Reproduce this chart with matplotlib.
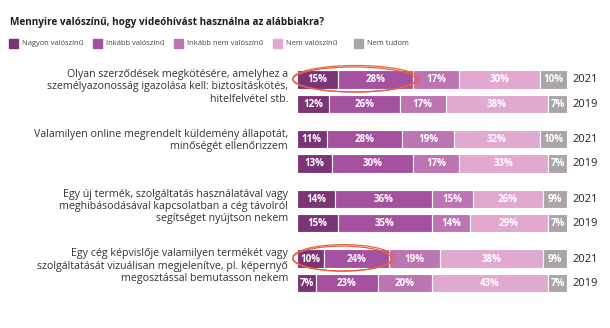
"""
Stacked bars: how likely people would use a video call for various tasks, 2021 vs 2019.
"""

import matplotlib
matplotlib.use("Agg")
import matplotlib.pyplot as plt
from matplotlib.patches import Ellipse

plt.rcParams["font.family"] = ["Open Sans", "DejaVu Sans"]

categories = ["Nagyon valószínű", "Inkább valószínű", "Inkább nem valószínű",
              "Nem valószínű", "Nem tudom"]
colours = ["#7b3476", "#a4519f", "#bd74b3", "#e2a9d0", "#aba5aa"]

questions = [
    "Olyan szerződések megkötésére, amelyhez a\nszemélyazonosság igazolása kell: biztosításkötés,\nhitelfelvétel stb.",
    "Valamilyen online megrendelt küldemény állapotát,\nminőségét ellenőrizzem",
    "Egy új termék, szolgáltatás használatával vagy\nmeghibásodásával kapcsolatban a cég távolról\nsegítséget nyújtson nekem",
    "Egy cég képvislője valamilyen termékét vagy\nszolgáltatását vizuálisan megjelenítve, pl. képernyő\nmegosztással bemutasson nekem",
]
years = ["2021", "2019"]

values_2021 = [
    [15, 28, 17, 30, 10],
    [11, 28, 19, 32, 10],
    [14, 36, 15, 26, 9],
    [10, 24, 19, 38, 9],
]
values_2019 = [
    [12, 26, 17, 38, 7],
    [13, 30, 17, 33, 7],
    [15, 35, 14, 29, 7],
    [7, 23, 20, 43, 7],
]

# which 2021 rows get the hand-drawn highlight around the first two segments
highlighted = [0, 3]

W, H = 610, 328
fig = plt.figure(figsize=(W / 100, H / 100), dpi=100)
fig.patch.set_facecolor("white")

# bar area: x in percent, y in pixel rows from the top
ax = fig.add_axes([297 / W, 0, 270 / W, 1])
ax.set_xlim(0, 100)
ax.set_ylim(H, 0)
ax.axis("off")

group_top = 79.5
group_step = 59.7
row_step = 24.3
bar_h = 18.5

for g, q in enumerate(questions):
    rows = [values_2021[g], values_2019[g]]
    for k, vals in enumerate(rows):
        yc = group_top + g * group_step + k * row_step
        left = 0
        for v, c in zip(vals, colours):
            ax.barh(yc, v, left=left, height=bar_h, color=c,
                    edgecolor="white", linewidth=0.8)
            ax.text(left + v / 2, yc + 0.5, f"{v}%", ha="center", va="center",
                    color="white", fontsize=7, fontweight="bold")
            left += v
        ax.text(102, yc + 0.5, years[k], ha="left", va="center",
                fontsize=8, color="#222222", clip_on=False)
        if k == 0 and g in highlighted:
            w = vals[0] + vals[1]
            for dx, dy, dw, dh in [(0, 0, 0, 0), (0.5, -0.8, 1.0, 1.4)]:
                ax.add_patch(Ellipse((w / 2 - 0.3 + dx, yc + dy), w + 2.5 + dw, 25 + dh,
                                     fill=False, edgecolor="#e8623e",
                                     linewidth=0.9, clip_on=False))
    ytop = group_top + g * group_step - bar_h / 2 - 1
    ax.text(-3.3, ytop, q, ha="right", va="top", fontsize=7.7,
            color="#333333", linespacing=1.15, clip_on=False)

fig.text(10 / W, 1 - 22 / H, "Mennyire valószínű, hogy videóhívást használna az alábbiakra?",
         ha="left", va="center", fontsize=7.2, fontweight="bold", color="#1e1e1e")

legend_x = [9, 93, 174, 273, 354]
for x, c, name in zip(legend_x, colours, categories):
    fig.patches.append(plt.Rectangle((x / W, 1 - 48 / H), 9 / W, 9 / H,
                                     transform=fig.transFigure, color=c))
    fig.text((x + 13) / W, 1 - 43.5 / H, name, ha="left", va="center",
             fontsize=5.4, color="#444444")

fig.savefig("out.png", dpi=100)
